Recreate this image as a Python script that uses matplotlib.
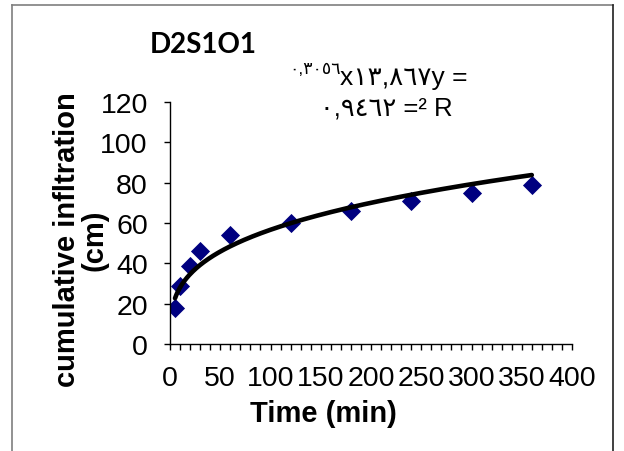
import numpy as np
import matplotlib
matplotlib.use('Agg')
import matplotlib.pyplot as plt
from matplotlib.lines import Line2D
from matplotlib.ticker import MultipleLocator

# cumulative infiltration test D2S1O1
time_min = [5, 10, 20, 30, 60, 120, 180, 240, 300, 360]
cum_infil = [18, 29, 38.5, 46, 54, 60, 66, 71, 75, 79]

# power trendline  y = a * x^b
coef_a = 13.867
coef_b = 0.3056
r_squared = 0.9462

x_ticks = [0, 50, 100, 150, 200, 250, 300, 350, 400]
y_ticks = [0, 20, 40, 60, 80, 100, 120]

plt.rcParams['font.family'] = ['Liberation Sans', 'DejaVu Sans']

W, H = 624, 452
fig = plt.figure(figsize=(W / 100, H / 100), dpi=100)
ax = fig.add_axes([170 / W, 1 - 345 / H, (572 - 170) / W, (345 - 103) / H])

ax.scatter(time_min, cum_infil, marker='D', s=95, color='#000080', zorder=2, linewidths=0)
xs = np.linspace(min(time_min), max(time_min), 300)
ax.plot(xs, coef_a * xs ** coef_b, color='black', lw=3.3, zorder=3, solid_capstyle='round')

ax.set_xlim(0, 400)
ax.set_ylim(0, 120)
ax.set_xticks(x_ticks)
ax.set_yticks(y_ticks)
ax.xaxis.set_minor_locator(MultipleLocator(10))
for s in ['top', 'right']:
    ax.spines[s].set_visible(False)
for s in ['left', 'bottom']:
    ax.spines[s].set_linewidth(1)
ax.tick_params(axis='both', which='both', direction='out', length=4, width=1, labelsize=20.5)
ax.tick_params(axis='x', which='major', pad=11)
ax.tick_params(axis='y', which='major', pad=12)

# axis titles
fig.text(81 / W, 1 - 240 / H, 'cumulative infltration\n(cm)', rotation=90,
         ha='center', va='center', multialignment='center',
         fontsize=21, fontweight='bold', linespacing=1.0)
fig.text(323 / W, 1 - 414 / H, 'Time (min)', ha='center', va='center',
         fontsize=21, fontweight='bold')
fig.text(203 / W, 1 - 45 / H, 'D2S1O1', ha='center', va='center',
         fontsize=20, fontweight='bold', family=['Lato', 'DejaVu Sans'])

# trendline equation with Arabic-Indic digits
to_ar = str.maketrans('0123456789', '٠١٢٣٤٥٦٧٨٩')
a_txt = f'{coef_a:.3f}'.replace('.', ',').translate(to_ar)
b_txt = f'{coef_b:.4f}'.replace('.', ',').translate(to_ar)
r_txt = f'{r_squared:.4f}'.replace('.', ',').translate(to_ar)

eq_main = fig.text(468 / W, 1 - 85 / H, 'x' + a_txt + 'y =', ha='right', va='baseline',
                   fontsize=19, family=['Liberation Sans', 'DejaVu Sans'])
fig.text(453 / W, 1 - 116 / H, r_txt + ' =² R', ha='right', va='baseline',
         fontsize=18.5, family=['Liberation Sans', 'DejaVu Sans'])

fig.canvas.draw()
bb = eq_main.get_window_extent(fig.canvas.get_renderer())
fig.text(bb.x0 / W, 1 - 74 / H, b_txt, ha='right', va='baseline',
         fontsize=12.5, family=['Liberation Sans', 'DejaVu Sans'])

# chart area border
fig.add_artist(Line2D([11.5 / W, 11.5 / W], [0, 1 - 5.5 / H], color='#7f7f7f', lw=1.2,
                      transform=fig.transFigure))
fig.add_artist(Line2D([11.5 / W, 612.5 / W], [1 - 5.5 / H, 1 - 5.5 / H], color='#7f7f7f', lw=1.2,
                      transform=fig.transFigure))
fig.add_artist(Line2D([612.5 / W, 612.5 / W], [0, 1 - 5.5 / H], color='#202020', lw=1.2,
                      transform=fig.transFigure))

fig.savefig('out.png', dpi=100)
